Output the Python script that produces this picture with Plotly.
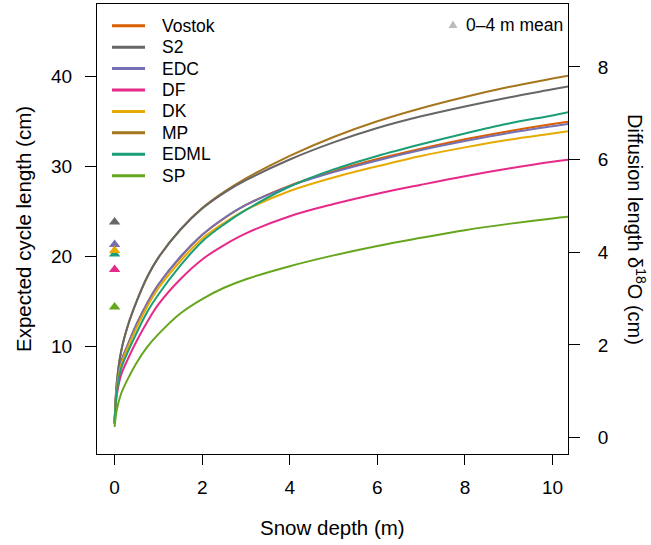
import plotly.graph_objects as go

# ---------------- data ----------------
depth = [0, 0.05, 0.15, 0.3, 0.5, 0.75, 1, 1.5, 2, 2.5, 3, 4, 5, 6, 7, 8, 9, 10, 10.5]

sites = ["Vostok", "S2", "EDC", "DF", "DK", "MP", "EDML", "SP"]
colors = ["#D95F02", "#666666", "#7570B3", "#E7298A", "#E6AB02", "#A6761D", "#1B9E77", "#66A61E"]

vostok = [1.5, 5.5, 8.3, 10.2, 12.5, 14.9, 16.9, 19.9, 22.4, 24.25, 25.75, 27.9, 29.5, 30.85, 32.0, 33.05, 33.95, 34.75, 35.1]
s2     = [1.5, 6.0, 9.5, 12.3, 15.0, 17.8, 19.9, 23.0, 25.35, 27.1, 28.5, 30.8, 32.7, 34.3, 35.6, 36.7, 37.7, 38.6, 39.05]
edc    = [1.5, 5.5, 8.3, 10.2, 12.5, 14.9, 16.9, 20.0, 22.45, 24.3, 25.75, 27.85, 29.4, 30.7, 31.85, 32.85, 33.75, 34.5, 34.85]
df     = [1.4, 4.6, 6.9, 8.6, 10.6, 12.8, 14.7, 17.5, 19.7, 21.3, 22.6, 24.5, 25.85, 27.0, 28.0, 28.95, 29.8, 30.55, 30.85]
dk     = [1.5, 5.3, 8.0, 9.9, 12.1, 14.5, 16.5, 19.5, 22.0, 23.75, 25.2, 27.3, 28.8, 30.05, 31.2, 32.15, 33.0, 33.7, 34.05]
mp     = [1.5, 6.0, 9.5, 12.3, 15.0, 17.8, 19.9, 23.0, 25.4, 27.2, 28.7, 31.2, 33.3, 35.05, 36.5, 37.75, 38.85, 39.8, 40.25]
edml   = [1.5, 5.0, 7.6, 9.4, 11.5, 13.9, 15.8, 19.0, 21.7, 23.6, 25.2, 27.8, 29.7, 31.2, 32.5, 33.7, 34.8, 35.7, 36.2]
sp     = [1.1, 3.0, 4.8, 6.4, 8.2, 10.0, 11.4, 13.7, 15.3, 16.55, 17.5, 18.95, 20.15, 21.2, 22.1, 22.95, 23.65, 24.25, 24.5]

curves = {"Vostok": vostok, "S2": s2, "EDC": edc, "DF": df, "DK": dk, "MP": mp, "EDML": edml, "SP": sp}

# 0-4 m mean cycle length (cm) at depth 0; None = not shown
mean_0_4 = {"Vostok": None, "S2": 23.86, "EDC": 21.36, "DF": 18.58, "DK": 20.68, "MP": None, "EDML": 20.3, "SP": 14.41}
mean_draw_order = ["SP", "DF", "EDML", "EDC", "DK", "S2"]

x_ticks = [0, 2, 4, 6, 8, 10]
y_ticks = [10, 20, 30, 40]
y2_ticks = [0, 2, 4, 6, 8]

# ---------------- layout geometry ----------------
W, H = 651, 545
L, R, T, B = 97, 568, 4, 454
FONT = "Liberation Sans, Arial, Helvetica, sans-serif"

def px(xp):
    return (xp - L) / (R - L)

def py(yp):
    return (B - yp) / (B - T)

fig = go.Figure()
color_of = dict(zip(sites, colors))
line_order = ["Vostok", "MP", "S2", "EDC", "DF", "DK", "EDML", "SP"]
for s in line_order:
    fig.add_trace(go.Scatter(x=depth, y=curves[s], mode="lines", name=s,
                             line=dict(color=color_of[s], width=2, shape="spline", smoothing=1.0),
                             showlegend=False, hoverinfo="skip"))

for s in mean_draw_order:
    v = mean_0_4[s]
    if v is None:
        continue
    fig.add_trace(go.Scatter(x=[0], y=[v], mode="markers", showlegend=False,
                             marker=dict(symbol="triangle-up", size=10, color=color_of[s]),
                             hoverinfo="skip"))

# invisible trace to activate right axis
fig.add_trace(go.Scatter(x=[None], y=[None], yaxis="y2", showlegend=False, hoverinfo="skip"))

axis_common = dict(showgrid=False, zeroline=False, showline=True, linecolor="black", linewidth=1,
                   ticks="outside", tickcolor="black", tickwidth=1,
                   tickfont=dict(family=FONT, size=19, color="black"))

fig.update_layout(
    width=W, height=H,
    margin=dict(l=L, r=W - R, t=T, b=H - B),
    paper_bgcolor="white", plot_bgcolor="white",
    showlegend=False,
    xaxis=dict(range=[-0.402, 10.354], tickvals=x_ticks, ticklen=10, mirror=True,
               ticklabelstandoff=6, **axis_common),
    yaxis=dict(range=[-1.92, 48.08], tickvals=y_ticks, ticklen=11, ticklabelstandoff=9, **axis_common),
    yaxis2=dict(range=[-0.352, 9.357], tickvals=y2_ticks, ticklen=11, overlaying="y", side="right",
                ticklabelstandoff=14, **axis_common),
)

ann = []
# axis titles
ann.append(dict(text="Snow depth (m)", xref="paper", yref="paper", x=0.5, y=py(527),
                xanchor="center", yanchor="middle", showarrow=False,
                font=dict(family=FONT, size=20.5, color="black")))
ann.append(dict(text="Expected cycle length (cm)", xref="paper", yref="paper", x=px(23), y=0.5,
                xanchor="center", yanchor="middle", textangle=-90, showarrow=False,
                font=dict(family=FONT, size=20.5, color="black")))
ann.append(dict(text="Diffusion length δ<sup>18</sup>O (cm)", xref="paper", yref="paper", x=px(637), y=0.5,
                xanchor="center", yanchor="middle", textangle=90, showarrow=False,
                font=dict(family=FONT, size=20, color="black")))

# manual legend
shapes = []
row0, dy = 25.7, 21.43
for i, s in enumerate(sites):
    yy = row0 + i * dy
    shapes.append(dict(type="line", xref="paper", yref="paper", x0=px(112), x1=px(145),
                       y0=py(yy), y1=py(yy), line=dict(color=color_of[s], width=3)))
    ann.append(dict(text=s, xref="paper", yref="paper", x=px(160), y=py(yy),
                    xanchor="left", yanchor="middle", showarrow=False,
                    font=dict(family=FONT, size=17.5, color="black")))

# mean-marker legend
tx, ty = 453, 25
shapes.append(dict(type="path", xref="paper", yref="paper",
                   path=f"M {px(tx-4.5)},{py(ty+3)} L {px(tx+4.5)},{py(ty+3)} L {px(tx)},{py(ty-4.5)} Z",
                   fillcolor="#BBBBBB", line=dict(width=0)))
ann.append(dict(text="0–4 m mean", xref="paper", yref="paper", x=px(464), y=py(ty),
                xanchor="left", yanchor="middle", showarrow=False,
                font=dict(family=FONT, size=17.5, color="black")))

fig.update_layout(annotations=ann, shapes=shapes)
fig.write_html("out.html", config={"displayModeBar": False},
               post_script="document.body.style.margin='0px';")
